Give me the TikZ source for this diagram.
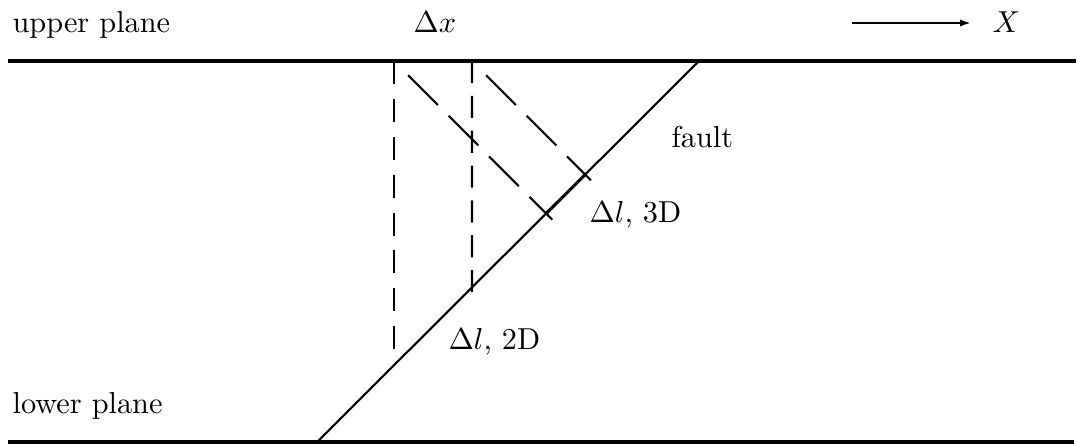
\documentclass[tikz,border=0pt]{standalone}
\usetikzlibrary{calc,arrows.meta}
\begin{document}
\begin{tikzpicture}[x=0.33pt,y=-0.33pt,
  plane/.style={line width=1.1pt},
  faultline/.style={line width=0.7pt},
  vdash/.style={line width=0.7pt,dash pattern=on 7.6pt off 4.9pt},
  vdashb/.style={line width=0.7pt,dash pattern=on 7.3pt off 4.2pt},
  ddash/.style={line width=0.7pt,dash pattern=on 13.9pt off 5pt},
  lbl/.style={anchor=base west,inner sep=0pt,font=\fontsize{10}{12}\selectfont}]
\useasboundingbox (0,0) rectangle (1078,445);
% planes
\coordinate (UL) at (8,61);
\coordinate (UR) at (1076,61);
\coordinate (LL) at (8,442);
\coordinate (LR) at (1074,442);
\draw[plane] (UL) -- (UR);
\draw[plane] (LL) -- (LR);
% fault
\coordinate (F1) at (317,442);
\coordinate (F2) at (699,61);
\draw[faultline] (F1) -- (F2);
% delta x corners
\coordinate (A) at (394,61);
\coordinate (B) at (472,61);
\coordinate (Abot) at (394,350);
\coordinate (Bbot) at (472,442);
\draw[line width=1.2pt] (A) -- (B);
% projections
\coordinate (P3a) at ($(F1)!(A)!(F2)$);
\coordinate (P3b) at ($(F1)!(B)!(F2)$);
\coordinate (P2) at (intersection of B--Bbot and F1--F2);
\draw[line width=1.0pt] (P3a) -- (P3b);
% dashed lines
\draw[vdash] (A) -- (Abot);
\draw[vdashb] (B) -- ($(B)!1.02!(P2)$);
\draw[ddash] ($(A)!0.093!(P3a)$) -- ($(A)!1.04!(P3a)$);
\draw[ddash] ($(B)!0.125!(P3b)$) -- ($(B)!1.05!(P3b)$);
% labels
\node[lbl] (up) at (12,33) {upper plane};
\node[lbl] (lo) at (12,413) {lower plane};
\node[lbl] (dx) at (413,33) {$\Delta x$};
\node[lbl] (fl) at (671,148) {fault};
\node[lbl] (l3) at (589,223) {$\Delta l$, 3D};
\node[lbl] (l2) at (448,349) {$\Delta l$, 2D};
\node[lbl] (X) at (992,33) {$X$};
% axis arrow
\coordinate (XA) at (852,23);
\coordinate (XB) at (971,23);
\draw[line width=0.7pt,-{Latex[length=3.6pt,width=2.4pt]}] (XA) -- (XB);
\end{tikzpicture}
\end{document}
